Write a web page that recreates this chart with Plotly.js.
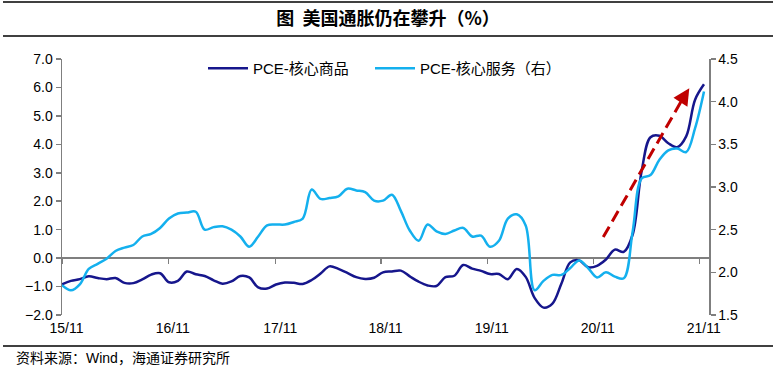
<!DOCTYPE html>
<html>
<head>
<meta charset="utf-8">
<script src="https://cdn.plot.ly/plotly-3.0.1.min.js"></script>
<style>
html,body{margin:0;padding:0;background:#fff;}
#chart{width:776px;height:370px;}
</style>
</head>
<body>
<div id="chart"></div>
<script>
// Monthly categories, 2015-11 .. 2021-11
const months = [
 '2015-11','2015-12',
 '2016-01','2016-02','2016-03','2016-04','2016-05','2016-06','2016-07','2016-08','2016-09','2016-10','2016-11','2016-12',
 '2017-01','2017-02','2017-03','2017-04','2017-05','2017-06','2017-07','2017-08','2017-09','2017-10','2017-11','2017-12',
 '2018-01','2018-02','2018-03','2018-04','2018-05','2018-06','2018-07','2018-08','2018-09','2018-10','2018-11','2018-12',
 '2019-01','2019-02','2019-03','2019-04','2019-05','2019-06','2019-07','2019-08','2019-09','2019-10','2019-11','2019-12',
 '2020-01','2020-02','2020-03','2020-04','2020-05','2020-06','2020-07','2020-08','2020-09','2020-10','2020-11','2020-12',
 '2021-01','2021-02','2021-03','2021-04','2021-05','2021-06','2021-07','2021-08','2021-09','2021-10','2021-11'
];
// PCE core goods YoY (%), left axis
const coreGoods = [
 -0.92,-0.80,
 -0.74,-0.64,-0.70,-0.74,-0.70,-0.87,-0.88,-0.75,-0.58,-0.53,-0.85,-0.80,
 -0.47,-0.57,-0.63,-0.78,-0.90,-0.82,-0.63,-0.68,-1.03,-1.07,-0.93,-0.86,
 -0.87,-0.91,-0.77,-0.54,-0.29,-0.38,-0.52,-0.67,-0.73,-0.69,-0.50,-0.47,
 -0.44,-0.64,-0.83,-0.96,-0.98,-0.67,-0.62,-0.24,-0.37,-0.45,-0.56,-0.56,
 -0.74,-0.38,-0.66,-1.40,-1.74,-1.60,-0.90,-0.15,-0.08,-0.32,-0.27,-0.05,
 0.30,0.22,0.83,3.05,4.25,4.30,4.04,3.90,4.28,5.57,6.11
];
// PCE core services YoY (%), right axis
const coreServices = [
 1.85,1.79,
 1.86,2.04,2.10,2.16,2.25,2.29,2.32,2.42,2.45,2.52,2.63,2.69,
 2.70,2.71,2.50,2.53,2.54,2.50,2.42,2.30,2.42,2.55,2.56,2.56,
 2.59,2.63,2.97,2.86,2.87,2.89,2.98,2.96,2.94,2.84,2.84,2.91,
 2.72,2.49,2.37,2.56,2.48,2.45,2.49,2.52,2.42,2.43,2.30,2.37,
 2.63,2.68,2.55,1.79,1.90,1.97,1.97,2.05,2.14,2.05,1.94,2.00,
 1.95,1.93,2.48,3.10,3.14,3.32,3.43,3.45,3.41,3.69,4.12
];
const tickLabels = ['15/11','16/11','17/11','18/11','19/11','20/11','21/11'];
const seriesNames = ['PCE-核心商品','PCE-核心服务（右）'];

const xIdx = months.map((m, i) => i);
const tickMarks = [0, 11.92, 23.97, 35.78, 47.70, 59.58, 71.47];
const labelPos = tickMarks.map(t => t + 0.5);

const FONT = 'Liberation Sans, Arial, Noto Sans CJK SC, sans-serif';
const AXC = '#7f7f7f';

const traces = [
  {x: xIdx, y: coreGoods, name: seriesNames[0], type: 'scatter', mode: 'lines',
   line: {color: '#16168C', width: 2.5, shape: 'spline', smoothing: 1},
   xaxis: 'x', yaxis: 'y', hoverinfo: 'skip', legend: 'legend'},
  {x: xIdx, y: coreServices, name: seriesNames[1], type: 'scatter', mode: 'lines',
   line: {color: '#14B0EE', width: 2.5, shape: 'spline', smoothing: 1},
   xaxis: 'x', yaxis: 'y2', hoverinfo: 'skip', legend: 'legend2'},
  {x: [null], y: [null], xaxis: 'x2', yaxis: 'y', showlegend: false, hoverinfo: 'skip', mode: 'lines'}
];

const legendBase = {orientation: 'h', xref: 'container', yref: 'container', y: 1 - 52/370,
  xanchor: 'left', yanchor: 'top', bgcolor: 'rgba(0,0,0,0)', font: {family: FONT, size: 15}, itemwidth: 40};

const layout = {
  width: 776, height: 370,
  margin: {l: 62, r: 67, t: 59, b: 55, autoexpand: false},
  paper_bgcolor: '#fff', plot_bgcolor: 'rgba(0,0,0,0)',
  font: {family: FONT, size: 14, color: '#000'},
  showlegend: true,
  title: {text: '图  美国通胀仍在攀升（%）', font: {family: 'Noto Sans CJK SC', size: 18, color: '#000', weight: 'bold'},
          x: 0.5, xref: 'container', xanchor: 'center', y: 1 - 19/370, yref: 'container', yanchor: 'middle'},
  legend: Object.assign({}, legendBase, {x: 203/776}),
  legend2: Object.assign({}, legendBase, {x: 370/776}),
  xaxis: {type: 'linear', range: [0, 72.56], showgrid: false, zeroline: false, showline: false,
          ticks: '', tickvals: labelPos, ticktext: tickLabels, tickfont: {family: FONT, size: 14},
          ticklabelstandoff: 3, fixedrange: true},
  xaxis2: {type: 'linear', overlaying: 'x', anchor: 'free', position: 2/9, range: [0, 72.56],
           showgrid: false, zeroline: false, showline: true, linecolor: AXC, linewidth: 2,
           ticks: 'outside', ticklen: 5, tickwidth: 1.5, tickcolor: AXC, tickvals: tickMarks,
           showticklabels: false, layer: 'below traces', fixedrange: true},
  yaxis: {range: [-2, 7], dtick: 1, tick0: 0, tickformat: '.1f', showgrid: false, zeroline: false,
          showline: true, linecolor: AXC, linewidth: 1.5, ticks: 'outside', ticklen: 5, tickcolor: AXC, tickwidth: 1.5,
          tickfont: {family: FONT, size: 14}, fixedrange: true},
  yaxis2: {range: [1.5, 4.5], dtick: 0.5, tick0: 1.5, tickformat: '.1f', overlaying: 'y', side: 'right',
           showgrid: false, zeroline: false, showline: true, linecolor: AXC, linewidth: 1.5,
           ticks: 'outside', ticklen: 5, tickcolor: AXC, tickwidth: 1.5, tickfont: {family: FONT, size: 14},
           fixedrange: true},
  shapes: [
    {type: 'line', xref: 'paper', yref: 'paper', x0: (3-62)/647, x1: (773-62)/647, y0: (315-2)/256, y1: (315-2)/256,
     line: {color: '#000', width: 1.5}},
    {type: 'line', xref: 'paper', yref: 'paper', x0: (3-62)/647, x1: (773-62)/647, y0: (315-36)/256, y1: (315-36)/256,
     line: {color: '#000', width: 1.5}},
    {type: 'line', xref: 'paper', yref: 'paper', x0: (3-62)/647, x1: (773-62)/647, y0: (315-346)/256, y1: (315-346)/256,
     line: {color: '#000', width: 1.5}},
    {type: 'line', xref: 'x', yref: 'y', x0: 60.7, y0: 0.74, x1: 69.6, y1: 5.6,
     line: {color: '#C00000', width: 3, dash: '12px,6px'}}
  ],
  annotations: [
    {xref: 'x', yref: 'y', x: 70.35, y: 5.97, axref: 'x', ayref: 'y', ax: 69.5, ay: 5.55,
     text: '', showarrow: true, arrowhead: 2, arrowsize: 1.1, arrowwidth: 3, arrowcolor: '#C00000', standoff: 0},
    {xref: 'paper', yref: 'paper', x: (14-62)/647, y: (315-358)/256, xanchor: 'left', yanchor: 'middle',
     text: '资料来源：Wind，海通证券研究所', showarrow: false,
     font: {family: 'Liberation Sans, Noto Sans CJK SC, sans-serif', size: 14, color: '#000'}}
  ]
};

Plotly.newPlot('chart', traces, layout, {displayModeBar: false, staticPlot: true});
</script>
</body>
</html>
